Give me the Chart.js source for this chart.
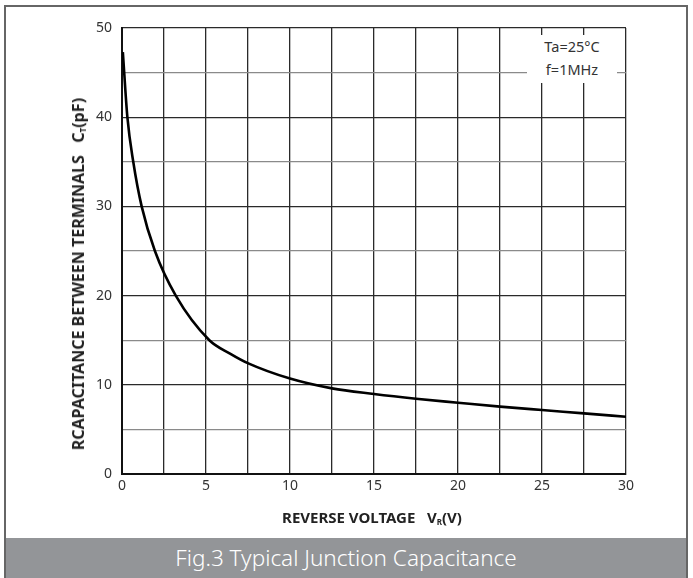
<!DOCTYPE html>
<html>
<head>
<meta charset="utf-8">
<script src="https://cdn.jsdelivr.net/npm/chart.js@4"></script>
<style>
  html, body { margin: 0; padding: 0; background: #fff; }
  #wrap { position: relative; width: 693px; height: 578px; overflow: hidden; font-family: "Noto Sans", sans-serif; }
  #frame { position: absolute; left: 4px; top: 5px; width: 684px; height: 580px; border: 2px solid #666; box-sizing: border-box; }
  #c { position: absolute; left: 0; top: 0; }
  #bar { position: absolute; left: 6px; top: 538px; width: 680px; height: 40px; background: #939598; color: #fff;
         font-size: 22.5px; text-align: center; line-height: 40px; font-weight: 300; }
  #note { position: absolute; left: 527px; top: 35px; width: 90px; height: 48px; background: #fff; color: #333;
          font-size: 14.5px; text-align: center; line-height: 23px; }
  #ytitle { position: absolute; left: 78px; top: 274px; transform: translate(-50%, -50%) rotate(-90deg);
            white-space: nowrap; font-weight: bold; font-size: 16px; color: #222; }
  #xtitle { position: absolute; left: 372px; top: 517px; transform: translate(-50%, -50%);
            white-space: nowrap; font-weight: bold; font-size: 15px; color: #222; }
  sub { font-size: 8px; vertical-align: -2px; }
</style>
</head>
<body>
<div id="wrap">
  <canvas id="c" width="693" height="538"></canvas>
  <div id="frame"></div>
  <div id="note">Ta=25°C<br>f=1MHz</div>
  <div id="ytitle">RCAPACITANCE BETWEEN TERMINALS&nbsp;&nbsp;&nbsp;C<sub>T</sub>(pF)</div>
  <div id="xtitle">REVERSE VOLTAGE&nbsp;&nbsp;&nbsp;V<sub>R</sub>(V)</div>
  <div id="bar">Fig.3 Typical Junction Capacitance</div>
</div>
<script>
const voltage = [0.05, 0.32, 0.67, 1.17, 1.96, 3.2, 5.2, 6.43, 7.52, 10, 12.5, 15, 17.5, 20, 22.5, 25, 27.5, 30];
const capacitance = [47.3, 40, 35, 30, 25, 20, 15, 13.5, 12.4, 10.7, 9.6, 8.97, 8.44, 7.99, 7.55, 7.17, 6.8, 6.42];
const xTickLabels = [0, 5, 10, 15, 20, 25, 30];
const yTickLabels = [0, 10, 20, 30, 40, 50];

const points = voltage.map((v, i) => ({ x: v, y: capacitance[i] }));
const tickFont = { family: "Noto Sans", size: 14 };

new Chart(document.getElementById('c'), {
  type: 'line',
  data: { datasets: [{ data: points, borderColor: '#000', borderWidth: 2.6, pointRadius: 0, fill: false, cubicInterpolationMode: 'monotone' }] },
  options: {
    responsive: false,
    animation: false,
    layout: { autoPadding: false, padding: { left: 0, top: 28, right: 67, bottom: 0 } },
    plugins: { legend: { display: false }, tooltip: { enabled: false } },
    scales: {
      x: {
        type: 'linear', min: 0, max: 30,
        afterFit: s => { s.height = 64; },
        ticks: { stepSize: 2.5, autoSkip: false, maxRotation: 0, padding: 4, color: '#333', font: tickFont,
                 callback: v => xTickLabels.includes(v) ? String(v) : '' },
        grid: { color: '#2a2a2a', lineWidth: 1.3, drawTicks: false },
        border: { color: '#111', width: 2 }
      },
      y: {
        min: 0, max: 50,
        afterFit: s => { s.width = 122; },
        ticks: { stepSize: 5, autoSkip: false, padding: 10, color: '#333', font: tickFont,
                 callback: v => yTickLabels.includes(v) ? String(v) : '' },
        grid: { color: c => (c.tick && c.tick.value % 10 === 0) ? '#2a2a2a' : '#8a8a8a', lineWidth: 1.3, drawTicks: false },
        border: { color: '#111', width: 2 }
      }
    }
  }
});
</script>
</body>
</html>
